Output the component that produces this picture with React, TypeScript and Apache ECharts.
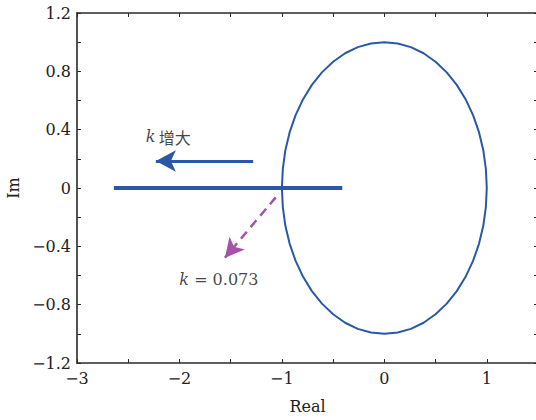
import React, { useEffect, useRef } from "react";
import * as echarts from "echarts";

// Unit circle (|z| = 1), points read along the drawn polygon
const circleRe = [1, 0.991, 0.966, 0.924, 0.866, 0.793, 0.707, 0.609, 0.5, 0.383, 0.259, 0.131, 0, -0.131, -0.259, -0.383, -0.5, -0.609, -0.707, -0.793, -0.866, -0.924, -0.966, -0.991, -1, -0.991, -0.966, -0.924, -0.866, -0.793, -0.707, -0.609, -0.5, -0.383, -0.259, -0.131, 0, 0.131, 0.259, 0.383, 0.5, 0.609, 0.707, 0.793, 0.866, 0.924, 0.966, 0.991, 1];
const circleIm = [0, 0.131, 0.259, 0.383, 0.5, 0.609, 0.707, 0.793, 0.866, 0.924, 0.966, 0.991, 1, 0.991, 0.966, 0.924, 0.866, 0.793, 0.707, 0.609, 0.5, 0.383, 0.259, 0.131, 0, -0.131, -0.259, -0.383, -0.5, -0.609, -0.707, -0.793, -0.866, -0.924, -0.966, -0.991, -1, -0.991, -0.966, -0.924, -0.866, -0.793, -0.707, -0.609, -0.5, -0.383, -0.259, -0.131, 0];

// Locus on the real axis
const locusRe = [-2.64, -0.41];
const locusIm = [0, 0];

// Annotation arrows
const solidArrowRe = [-1.28, -2.23];
const solidArrowIm = [0.185, 0.185];
const dashArrowRe = [-1.06, -1.556];
const dashArrowIm = [-0.064, -0.478];

// Annotation labels
const labelIncrease = { re: -2.11, im: 0.352, k: "k", text: "增大" };
const labelK = { re: -1.615, im: -0.63, k: "k", text: "= 0.073" };

const xMin = -3, xMax = 1.5, xInterval = 0.5;
const yMin = -1.2, yMax = 1.2, yInterval = 0.2;

const BLUE = "#2b58a6";
const PURPLE = "#a652a6";
const AXIS = "#2a2a2a";
const SERIF = "'DejaVu Serif', 'Liberation Serif', serif";

function fmtNum(v: number): string {
  const s = String(Math.abs(v));
  return v < 0 ? "\u2212" + s : s;
}

export default function App() {
  const ref = useRef<HTMLDivElement>(null);
  useEffect(() => {
    if (!ref.current) return;
    const chart = echarts.init(ref.current, null, { renderer: "svg" });
    const axisCommon = {
      type: "value" as const,
      axisLine: { show: true, onZero: false, lineStyle: { color: AXIS, width: 1.6 } },
      axisTick: { show: true, inside: true, length: 4, lineStyle: { color: AXIS, width: 1 } },
      splitLine: { show: false },
    };
    const option: any = {
      animation: false,
      backgroundColor: "#ffffff",
      grid: { left: 77, top: 13, width: 461, height: 350, containLabel: false, outerBoundsMode: "none" },
      xAxis: [
        {
          ...axisCommon,
          min: xMin, max: xMax, interval: xInterval,
          position: "bottom",
          name: "Real",
          nameLocation: "middle",
          nameGap: 35,
          nameTextStyle: { fontFamily: SERIF, fontSize: 16, color: "#222" },
          axisLabel: {
            show: true, margin: 7, fontFamily: SERIF, fontSize: 16, color: "#222",
            formatter: (v: number) => {
              const r = Math.round(v * 10) / 10;
              return Math.abs(r - Math.round(r)) < 1e-6 ? fmtNum(Math.round(r)) : "";
            },
          },
        },
        {
          ...axisCommon,
          min: xMin, max: xMax, interval: xInterval,
          position: "top",
          axisLabel: { show: false },
        },
      ],
      yAxis: [
        {
          ...axisCommon,
          min: yMin, max: yMax, interval: yInterval,
          position: "left",
          name: "Im",
          nameLocation: "middle",
          nameGap: 54,
          nameTextStyle: { fontFamily: SERIF, fontSize: 16, color: "#222" },
          axisLabel: {
            show: true, margin: 6, fontFamily: SERIF, fontSize: 16, color: "#222",
            formatter: (v: number) => {
              const r = Math.round(v * 10) / 10;
              const q = r / 0.4;
              if (Math.abs(q - Math.round(q)) > 1e-6) return "";
              return r === 0 ? "0" : fmtNum(r);
            },
          },
        },
        {
          ...axisCommon,
          min: yMin, max: yMax, interval: yInterval,
          position: "right",
          axisLabel: { show: false },
        },
      ],
      series: [
        {
          type: "line",
          data: circleRe.map((x, i) => [x, circleIm[i]]),
          showSymbol: false,
          lineStyle: { color: BLUE, width: 2 },
          silent: true,
        },
        {
          type: "line",
          data: locusRe.map((x, i) => [x, locusIm[i]]),
          showSymbol: false,
          lineStyle: { color: BLUE, width: 4 },
          silent: true,
        },
        {
          type: "line",
          data: [],
          markLine: {
            silent: true,
            symbol: ["none", "arrow"],
            symbolSize: [16, 20],
            label: { show: false },
            lineStyle: { color: BLUE, width: 3, type: "solid" },
            data: [[
              { coord: [solidArrowRe[0], solidArrowIm[0]] },
              { coord: [solidArrowRe[1], solidArrowIm[1]] },
            ]],
          },
        },
        {
          type: "line",
          data: [],
          markLine: {
            silent: true,
            symbol: ["none", "arrow"],
            symbolSize: [15, 19],
            label: { show: false },
            lineStyle: { color: PURPLE, width: 2.5, type: [9, 6] },
            data: [[
              { coord: [dashArrowRe[0], dashArrowIm[0]] },
              { coord: [dashArrowRe[1], dashArrowIm[1]] },
            ]],
          },
        },
        {
          type: "scatter",
          symbolSize: 0,
          silent: true,
          data: [[labelIncrease.re, labelIncrease.im], [labelK.re, labelK.im]],
          label: {
            show: true,
            position: "inside",
            formatter: (p: any) =>
              p.dataIndex === 0
                ? `{i|${labelIncrease.k}} {c|${labelIncrease.text}}`
                : `{i|${labelK.k}}{n| ${labelK.text}}`,
            rich: {
              i: { fontFamily: SERIF, fontStyle: "italic", fontSize: 16, color: "#111" },
              c: { fontFamily: "'Noto Sans CJK SC', sans-serif", fontSize: 16, color: "#111" },
              n: { fontFamily: SERIF, fontSize: 16, color: "#111" },
            },
          },
        },
      ],
    };
    chart.setOption(option);
    return () => chart.dispose();
  }, []);
  return (
    <div
      ref={ref}
      style={{ position: "fixed", left: 0, top: 0, width: 536, height: 420 }}
    />
  );
}
